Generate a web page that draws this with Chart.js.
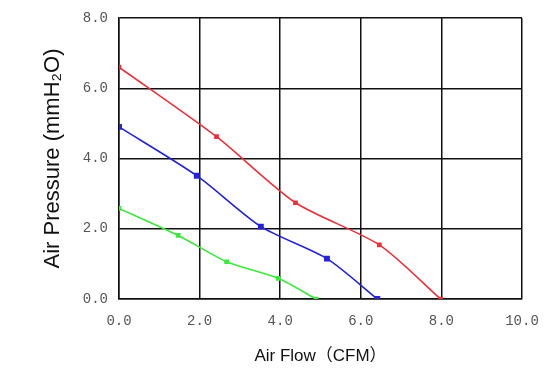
<!DOCTYPE html>
<html><head><meta charset="utf-8">
<script src="https://cdn.jsdelivr.net/npm/chart.js@4"></script>
<style>html,body{margin:0;padding:0;background:#fff}#wrap{width:550px;height:372px}</style>
</head><body><div id="wrap"><canvas id="c" width="550" height="372"></canvas></div>
<script>
const xTicks = [0, 2, 4, 6, 8, 10];
const yTicks = [0, 2, 4, 6, 8];
const redFlow = [0, 2.42, 4.38, 6.46, 7.98];
const redPressure = [6.6, 4.62, 2.74, 1.54, 0];
const blueFlow = [0, 1.93, 3.52, 5.16, 6.41];
const bluePressure = [4.9, 3.51, 2.06, 1.15, 0];
const greenFlow = [0, 1.47, 2.67, 3.95, 4.89];
const greenPressure = [2.58, 1.81, 1.06, 0.59, 0];

function pts(xs, ys){ return xs.map((x,i)=>({x:x, y:ys[i]})); }
function ds(xs, ys, color, r){
  return {data: pts(xs, ys), borderColor: color, backgroundColor: color, borderWidth: 1.6,
    pointStyle: 'rect', pointRadius: r, pointHoverRadius: r, tension: 0.25, fill: false, showLine: true};
}
new Chart(document.getElementById('c'), {
  type: 'scatter',
  data: {datasets: [
    ds(redFlow, redPressure, '#e8323c', 2.2),
    ds(blueFlow, bluePressure, '#2323d8', 3),
    ds(greenFlow, greenPressure, '#3ee63e', 2.2)
  ]},
  options: {
    responsive: false, animation: false,
    layout: {padding: {left: 0, right: 28, top: 18, bottom: 0}},
    plugins: {legend: {display: false}, tooltip: {enabled: false}},
    scales: {
      x: {type: 'linear', min: 0, max: 10,
        afterBuildTicks: s => { s.ticks = xTicks.map(v=>({value:v})); },
        afterFit: s => { s.height = 73; s.paddingLeft = 0; s.paddingRight = 0; },
        grid: {color: '#111', lineWidth: 1.5, drawTicks: false},
        border: {color: '#111', width: 1.5},
        ticks: {padding: 14, color: '#555', font: {family: 'Liberation Mono', size: 14},
          callback: v => v.toFixed(1)},
        title: {display: true, text: 'Air Flow\uFF08CFM\uFF09', color: '#111',
          font: {family: "'Liberation Sans', 'Noto Sans CJK SC'", size: 17}, padding: {top: 12, bottom: 5}}
      },
      y: {type: 'linear', min: 0, max: 8,
        afterBuildTicks: s => { s.ticks = yTicks.map(v=>({value:v})); },
        afterFit: s => { s.width = 119; s.paddingTop = 0; s.paddingBottom = 0; },
        grid: {color: '#111', lineWidth: 1.5, drawTicks: false},
        border: {color: '#111', width: 1.5},
        ticks: {padding: 11, color: '#555', font: {family: 'Liberation Mono', size: 14},
          callback: v => v.toFixed(1)},
        title: {display: true, text: 'Air Pressure (mmH\u2082O)', color: '#111',
          font: {family: 'Liberation Sans', size: 22}, padding: {top: 40, bottom: 0}}
      }
    }
  }
});
</script></body></html>
